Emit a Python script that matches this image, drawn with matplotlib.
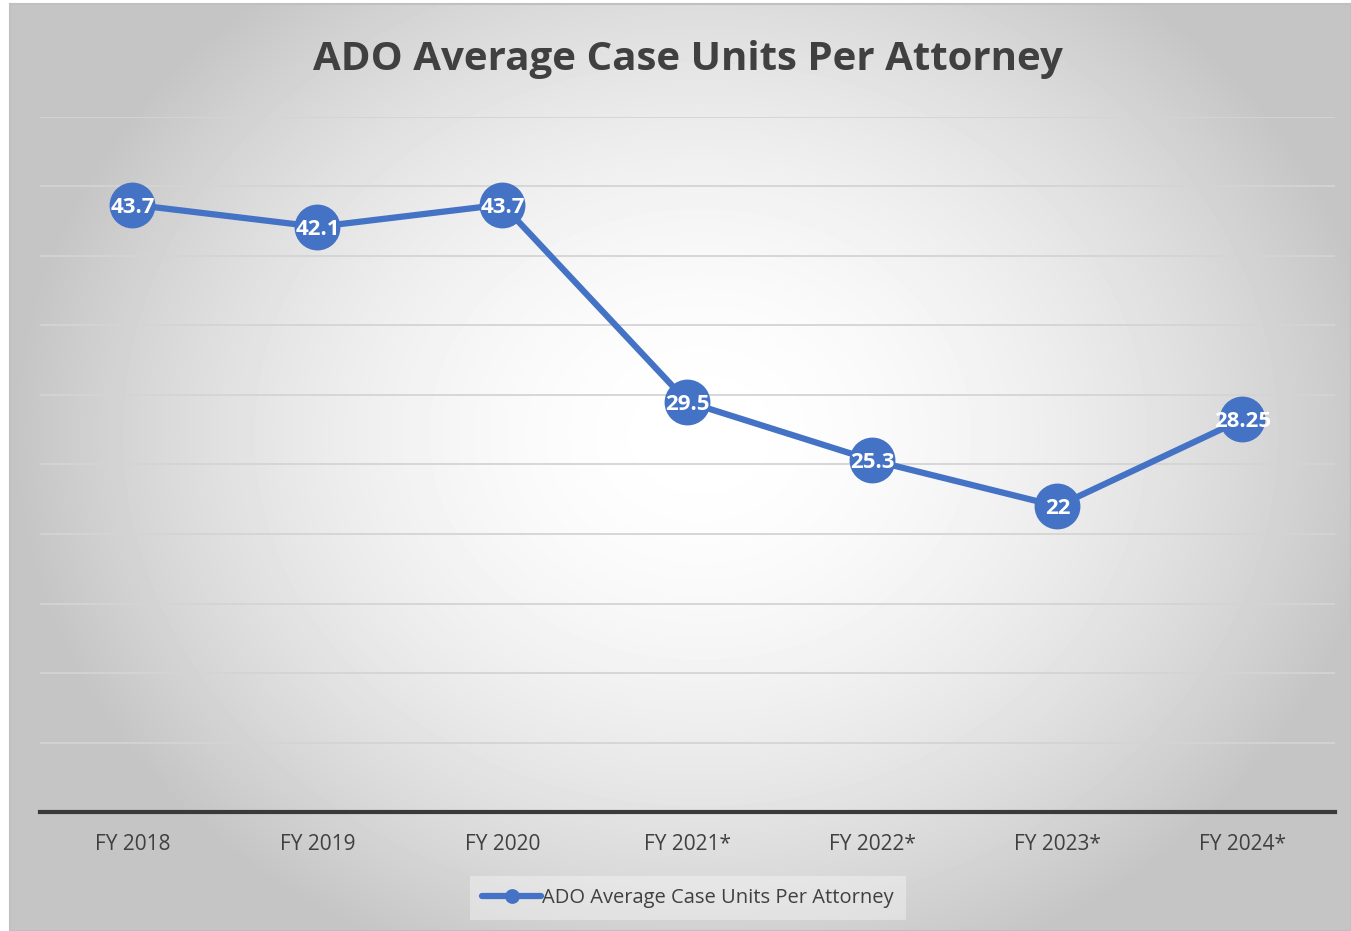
import numpy as np
import matplotlib
matplotlib.use('Agg')
import matplotlib.pyplot as plt

years = ['FY 2018', 'FY 2019', 'FY 2020', 'FY 2021*', 'FY 2022*', 'FY 2023*', 'FY 2024*']
units = [43.7, 42.1, 43.7, 29.5, 25.3, 22, 28.25]
unit_labels = ['43.7', '42.1', '43.7', '29.5', '25.3', '22', '28.25']

plt.rcParams['font.family'] = ['Open Sans', 'DejaVu Sans']
blue = '#4472c4'
grey_text = '#404040'

fig = plt.figure(figsize=(13.51, 9.31), dpi=100)

# radial gradient background of the chart box
bg = fig.add_axes([10 / 1351, 0, 1341 / 1351, 927 / 931], zorder=-10)
yy, xx = np.mgrid[0:927, 0:1341]
r = np.sqrt(((xx - 690) / 720.0) ** 2 + ((yy - 430) / 600.0) ** 2)
shade = np.clip(1.0 - 0.25 * r ** 1.8, 0.77, 1.0)
bg.imshow(shade, cmap='gray', vmin=0, vmax=1, aspect='auto', interpolation='bilinear')
bg.set_xticks([])
bg.set_yticks([])
for s in bg.spines.values():
    s.set_color('#c0c0c0')
    s.set_linewidth(1.5)

ax = fig.add_axes([40 / 1351, 119 / 931, 1295 / 1351, 695 / 931])
ax.patch.set_alpha(0)
x = np.arange(len(years))
ax.plot(x, units, color=blue, lw=4.5, marker='o', markersize=32,
        markerfacecolor=blue, markeredgecolor=blue, solid_capstyle='round',
        label='ADO Average Case Units Per Attorney', zorder=3)
for xi, v, lab in zip(x, units, unit_labels):
    ax.text(xi, v, lab, ha='center', va='center_baseline', color='white',
            fontsize=16, fontweight='bold', zorder=4)

ax.set_xlim(-0.5, len(years) - 0.5)
ax.set_ylim(0, 50)
ax.set_yticks(np.arange(0, 51, 5))
ax.yaxis.grid(True, color='#d4d4d4', lw=1.3)
ax.set_axisbelow(True)
ax.tick_params(axis='y', length=0, labelleft=False)
ax.set_xticks(x)
ax.set_xticklabels(years, fontsize=15, color=grey_text)
ax.tick_params(axis='x', length=0, pad=16)
for side in ['left', 'right', 'top']:
    ax.spines[side].set_visible(False)
ax.spines['bottom'].set_color('#3a3a3a')
ax.spines['bottom'].set_linewidth(3)

fig.text(0.509, 0.936, 'ADO Average Case Units Per Attorney', ha='center', va='center',
         fontsize=29, fontweight='bold', color=grey_text)

leg = fig.legend(loc='center', bbox_to_anchor=(688 / 1351, 1 - 898 / 931),
                 fontsize=14.5, frameon=True, fancybox=False, markerscale=0.3,
                 handlelength=2.9, handletextpad=0.05, borderpad=0.6,
                 borderaxespad=0)
leg.get_frame().set_facecolor('white')
leg.get_frame().set_alpha(0.35)
leg.get_frame().set_edgecolor('none')
for t in leg.get_texts():
    t.set_color(grey_text)

fig.savefig('out.png', dpi=100)
